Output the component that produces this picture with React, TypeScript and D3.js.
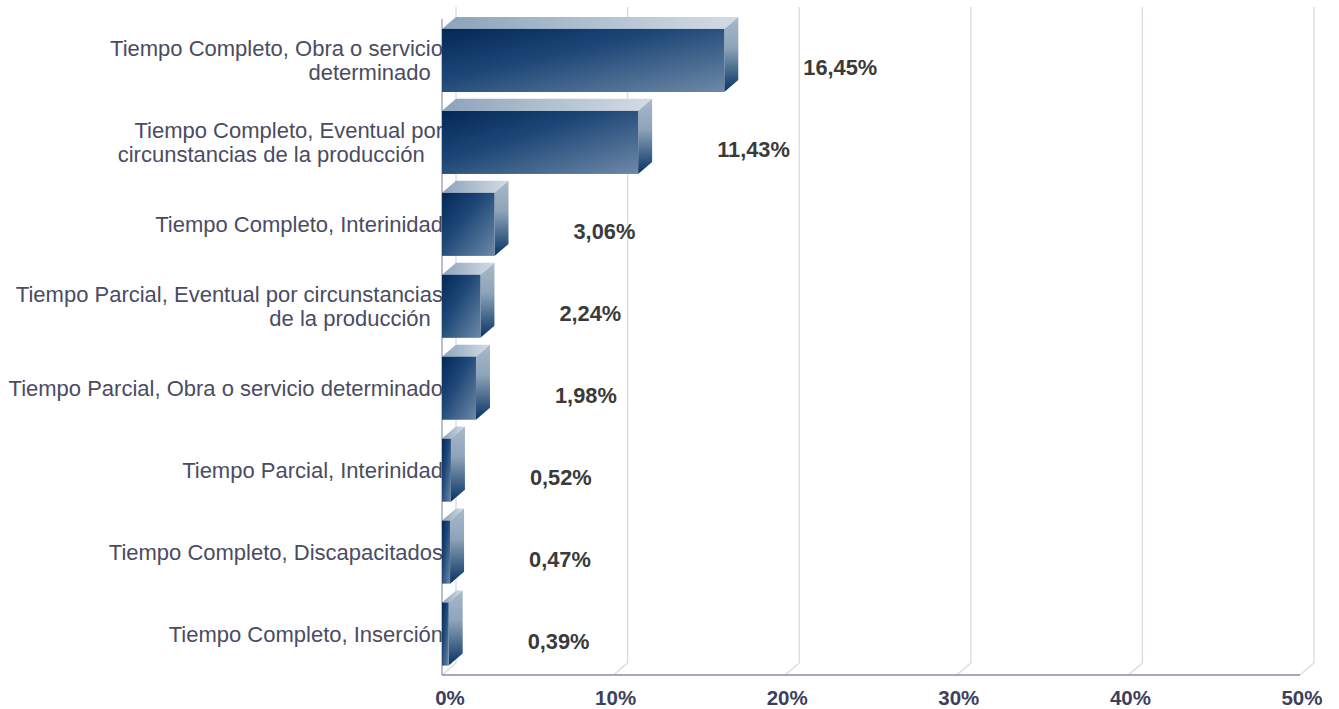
import React from 'react';
import * as d3 from 'd3';

// categorías (con saltos de línea como en el original)
const categories = [
  'Tiempo Completo, Obra o servicio|determinado\u00a0\u00a0',
  'Tiempo Completo, Eventual por|circunstancias de la producción\u00a0\u00a0\u00a0',
  'Tiempo Completo, Interinidad',
  'Tiempo Parcial, Eventual por circunstancias|de la producción\u00a0\u00a0',
  'Tiempo Parcial, Obra o servicio determinado',
  'Tiempo Parcial, Interinidad',
  'Tiempo Completo, Discapacitados',
  'Tiempo Completo, Inserción',
];
const values = [16.45, 11.43, 3.06, 2.24, 1.98, 0.52, 0.47, 0.39];
const ticks = [0, 10, 20, 30, 40, 50];

const W = 1339;
const H = 709;
const DX = 14; // profundidad 3D
const DY = -12;
const FONT = "'Liberation Sans', Arial, sans-serif";

export default function App() {
  const x = d3.scaleLinear([0, 50], [442, 1300]);
  const y = d3
    .scaleBand<string>()
    .domain(categories)
    .range([19.5, 675])
    .paddingInner(0.23)
    .paddingOuter(0.115);
  const bw = y.bandwidth();
  const floorY = 675;
  const topY = 19;
  const fmt = (v: number) => v.toFixed(2).replace('.', ',') + '%';

  return (
    <svg
      width={W}
      height={H}
      style={{ position: 'absolute', left: 0, top: 0, background: '#fff' }}
    >
      <defs>
        <linearGradient id="front" x1="0" y1="0" x2="1" y2="1">
          <stop offset="0" stopColor="#032857" />
          <stop offset="0.4" stopColor="#1d4676" />
          <stop offset="1" stopColor="#6d89a7" />
        </linearGradient>
        <linearGradient id="topFace" x1="0" y1="0" x2="1" y2="0">
          <stop offset="0" stopColor="#8ca3bb" />
          <stop offset="1" stopColor="#d3dce5" />
        </linearGradient>
        <linearGradient id="side" x1="0" y1="0" x2="0" y2="1">
          <stop offset="0" stopColor="#a8b9ca" />
          <stop offset="0.4" stopColor="#8ea4ba" />
          <stop offset="1" stopColor="#073362" />
        </linearGradient>
      </defs>

      {/* rejilla: pared del fondo + suelo */}
      {ticks.map((t) => (
        <polyline
          key={t}
          points={`${x(t) + DX},${topY + DY} ${x(t) + DX},${floorY + DY} ${x(t)},${floorY}`}
          fill="none"
          stroke="#d9d9e6"
          strokeWidth={1.3}
        />
      ))}
      <line x1={x(0)} x2={x(0)} y1={topY} y2={floorY} stroke="#9b9bb8" strokeWidth={1.3} />
      <line x1={x(0)} x2={x(50)} y1={floorY} y2={floorY} stroke="#8a8aa8" strokeWidth={1.5} />

      {/* etiquetas de categoría */}
      {categories.map((c) => {
        const lines = c.split('|');
        const cy = (y(c) as number) + bw / 2;
        const base = lines.length === 1 ? cy + 8 : cy - 4;
        return (
          <text
            key={c}
            textAnchor="end"
            fontFamily={FONT}
            fontSize={22}
            fill="#4a4c62"
          >
            {lines.map((l, i) => (
              <tspan key={i} x={443} y={base + i * 24}>
                {l}
              </tspan>
            ))}
          </text>
        );
      })}

      {/* barras 3D */}
      {values.map((v, i) => {
        const c = categories[i];
        const y0 = y(c) as number;
        const y1 = y0 + bw;
        const x0 = x(0);
        const x1 = x(v);
        return (
          <g key={c}>
            <polygon
              points={`${x0},${y0} ${x0 + DX},${y0 + DY} ${x1 + DX},${y0 + DY} ${x1},${y0}`}
              fill="url(#topFace)"
            />
            <polygon
              points={`${x1},${y0} ${x1 + DX},${y0 + DY} ${x1 + DX},${y1 + DY} ${x1},${y1}`}
              fill="url(#side)"
            />
            <rect x={x0} y={y0} width={x1 - x0} height={bw} fill="url(#front)" />
          </g>
        );
      })}

      {/* valores */}
      {values.map((v, i) => {
        const cy = (y(categories[i]) as number) + bw / 2;
        return (
          <text
            key={i}
            x={x(v) + 79}
            y={cy + 14.5}
            fontFamily={FONT}
            fontSize={21.8}
            fontWeight="bold"
            fill="#3a3a3a"
          >
            {fmt(v)}
          </text>
        );
      })}

      {/* eje X */}
      {ticks.map((t) => (
        <text
          key={t}
          x={Math.max(x(t) + 2, 450)}
          y={705}
          textAnchor="middle"
          fontFamily={FONT}
          fontSize={20.5}
          fontWeight="bold"
          fill="#3d3f5c"
        >
          {t}%
        </text>
      ))}
    </svg>
  );
}
